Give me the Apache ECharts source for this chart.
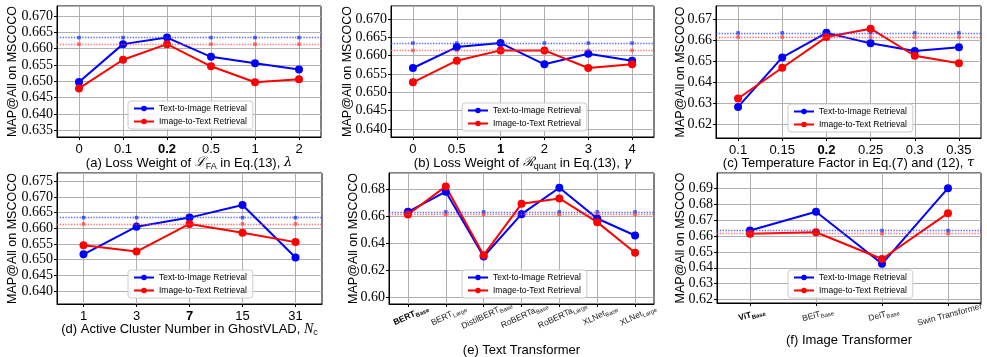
<!DOCTYPE html>
<html>
<head>
<meta charset="utf-8">
<script src="https://cdn.jsdelivr.net/npm/echarts@6/dist/echarts.min.js"></script>
<style>
  html, body { margin: 0; background: #fff; }
  #chart { width: 987px; height: 357px; }
</style>
</head>
<body>
<div id="chart"></div>
<script>
// default-configuration scores, drawn as the dotted reference lines
const baseT2I = 0.6634;
const baseI2T = 0.6614;

const lambdaLabels = ['0', '0.1', '0.2', '0.5', '1', '2'];
const lambdaT2I = [0.6498, 0.6614, 0.6634, 0.6575, 0.6555, 0.6536];
const lambdaI2T = [0.6478, 0.6566, 0.6614, 0.6546, 0.6497, 0.6506];

const gammaLabels = ['0', '0.5', '1', '2', '3', '4'];
const gammaT2I = [0.6566, 0.6623, 0.6634, 0.6576, 0.6605, 0.6586];
const gammaI2T = [0.6527, 0.6586, 0.6614, 0.6614, 0.6566, 0.6576];

const tauLabels = ['0.1', '0.15', '0.2', '0.25', '0.3', '0.35'];
const tauT2I = [0.6281, 0.6517, 0.6634, 0.6584, 0.6548, 0.6565];
const tauI2T = [0.6321, 0.6468, 0.6614, 0.6654, 0.6525, 0.6489];

const clusterLabels = ['1', '3', '7', '15', '31'];
const clusterT2I = [0.6517, 0.6605, 0.6634, 0.6674, 0.6507];
const clusterI2T = [0.6546, 0.6526, 0.6614, 0.6586, 0.6556];

const textModels = ['BERT|Base', 'BERT|Large', 'DistilBERT|Base', 'RoBERTa|Base', 'RoBERTa|Large', 'XLNet|Base', 'XLNet|Large'];
const textT2I = [0.6634, 0.6783, 0.6304, 0.6617, 0.6812, 0.6585, 0.6459];
const textI2T = [0.6614, 0.6822, 0.6314, 0.6693, 0.6733, 0.6558, 0.6331];

const imageModels = ['ViT|Base', 'BEiT|Base', 'DeiT|Base', 'Swin Transformer'];
const imageT2I = [0.6634, 0.6752, 0.6425, 0.6900];
const imageI2T = [0.6614, 0.6623, 0.6455, 0.6743];

const T2I = 'Text-to-Image Retrieval';
const I2T = 'Image-to-Text Retrieval';
const BLUE = '#0000ff';
const RED = '#ff0000';

const panels = [
  { cats: lambdaLabels, t2i: lambdaT2I, i2t: lambdaI2T, bold: 2,
    box: [57, 6, 264, 131], y: [0.6329, 0.6731], step: 0.005, dec: 3, yGap: 38,
    title: '{t|(a) Loss Weight of }{l|ℒ}{s|FA}{t| in Eq.(13), }{i|λ}', xGap: 18, legend: [128, 101] },
  { cats: gammaLabels, t2i: gammaT2I, i2t: gammaI2T, bold: 2,
    box: [391, 6, 263, 131], y: [0.6378, 0.6735], step: 0.005, dec: 3, yGap: 37,
    title: '{t|(b) Loss Weight of }{l|ℛ}{s|quant}{t| in Eq.(13), }{i|γ}', xGap: 18, legend: [462, 103] },
  { cats: tauLabels, t2i: tauT2I, i2t: tauI2T, bold: 2,
    box: [716, 6, 265, 132], y: [0.6133, 0.6762], step: 0.01, dec: 2, yGap: 29,
    title: '{t|(c) Temperature Factor in Eq.(7) and (12), }{i|τ}', xGap: 17, legend: [788, 104] },
  { cats: clusterLabels, t2i: clusterT2I, i2t: clusterI2T, bold: 2,
    box: [57, 173, 265, 131], y: [0.6359, 0.6776], step: 0.005, dec: 3, yGap: 38,
    title: '{t|(d) Active Cluster Number in GhostVLAD, }{n|N}{s|c}', xGap: 17, legend: [128, 270] },
  { cats: textModels, t2i: textT2I, i2t: textI2T, bold: 0, sub: true, rotate: 25, size: 8.5,
    box: [389, 173, 265, 131], y: [0.5953, 0.6921], step: 0.02, dec: 2, yGap: 29,
    title: '{t|(e) Text Transformer}', xGap: 38, legend: [462, 270] },
  { cats: imageModels, t2i: imageT2I, i2t: imageI2T, bold: 0, sub: true, rotate: 15, size: 8.5,
    box: [717, 173, 264, 130], y: [0.6179, 0.6995], step: 0.01, dec: 2, yGap: 30,
    title: '{t|(f) Image Transformer}', xGap: 29, legend: [788, 270] }
];

const sans = 'Liberation Sans, Arial, sans-serif';
const serif = 'Liberation Serif, Times New Roman, serif';

const titleRich = {
  t: { fontSize: 13, fontFamily: sans, color: '#000', lineHeight: 16 },
  l: { fontSize: 13, fontFamily: 'DejaVu Serif', fontStyle: 'italic', color: '#000', lineHeight: 16 },
  i: { fontSize: 13, fontFamily: 'DejaVu Serif', fontStyle: 'italic', color: '#000', lineHeight: 16 },
  n: { fontSize: 14, fontFamily: serif, fontStyle: 'italic', color: '#000', lineHeight: 16 },
  s: { fontSize: 9, fontFamily: sans, color: '#000', lineHeight: 9, verticalAlign: 'bottom' }
};

function tickRich(size) {
  return {
    m: { fontSize: size, fontFamily: sans, color: '#222', lineHeight: size + 3 },
    mb: { fontSize: size, fontFamily: sans, fontWeight: 'bold', color: '#000', lineHeight: size + 3 },
    s: { fontSize: size * 0.7, fontFamily: sans, color: '#222', lineHeight: size * 0.75, verticalAlign: 'bottom' },
    sb: { fontSize: size * 0.7, fontFamily: sans, fontWeight: 'bold', color: '#000', lineHeight: size * 0.75, verticalAlign: 'bottom' }
  };
}

const grid = [], xAxis = [], yAxis = [], series = [], legend = [];

panels.forEach((p, k) => {
  const [left, top, width, height] = p.box;
  grid.push({ left, top, width, height, show: true, borderColor: '#000', borderWidth: 1,
    outerBoundsMode: 'none' });

  const labelOpt = p.sub
    ? {
        rotate: p.rotate, margin: 5, align: 'center', verticalAlign: 'middle',
        padding: [14, 0, 0, 0],
        rich: tickRich(p.size),
        formatter: (v, idx) => {
          const [main, low] = v.split('|');
          const b = idx === p.bold ? 'b' : '';
          return low ? `{m${b}|${main}}{s${b}|${low}}` : `{m${b}|${main}}`;
        }
      }
    : { fontSize: 13, fontFamily: sans, color: '#000', margin: 6 };

  xAxis.push({
    gridIndex: k, type: 'category', boundaryGap: true,
    data: p.sub ? p.cats : p.cats.map((c, i) => i === p.bold ? { value: c, textStyle: { fontWeight: 'bold' } } : c),
    axisLine: { show: true, lineStyle: { color: '#000', width: 1 } },
    axisTick: { show: true, alignWithLabel: true, length: 3, lineStyle: { color: '#000' } },
    splitLine: { show: true, alignWithLabel: true, lineStyle: { color: '#b0b0b0', width: 1 } },
    axisLabel: labelOpt,
    name: p.title, nameLocation: 'middle', nameGap: p.xGap, nameMoveOverlap: false,
    nameTextStyle: { rich: titleRich }
  });

  yAxis.push({
    gridIndex: k, type: 'value', min: p.y[0], max: p.y[1],
    minInterval: p.step, maxInterval: p.step, splitNumber: 8,
    axisLine: { show: true, lineStyle: { color: '#000', width: 1 } },
    axisTick: { show: true, length: 3, lineStyle: { color: '#000' } },
    splitLine: { show: true, lineStyle: { color: '#b0b0b0', width: 1 } },
    axisLabel: { fontSize: 14, fontFamily: serif, color: '#000', margin: 4,
      showMinLabel: false, showMaxLabel: false, formatter: v => v.toFixed(p.dec) },
    name: 'MAP@All on MSCOCO', nameLocation: 'middle', nameRotate: 90, nameGap: p.yGap,
    nameMoveOverlap: false,
    nameTextStyle: { fontSize: 12.5, fontFamily: sans, color: '#000' }
  });

  // dotted reference lines with small square marks at every category
  [[baseT2I, '#2a3cff', 'base-t2i'], [baseI2T, '#ff4a4a', 'base-i2t']].forEach(([v, c, nm]) => {
    series.push({
      name: nm, type: 'line', xAxisIndex: k, yAxisIndex: k, silent: true, z: 1,
      symbol: 'rect', symbolSize: 3.5, showAllSymbol: true,
      itemStyle: { color: c, opacity: 0.8 },
      lineStyle: { opacity: 0 },
      data: p.cats.map(() => v),
      markLine: {
        silent: true, symbol: 'none', label: { show: false }, animation: false,
        precision: 6,
        lineStyle: { color: c, type: 'dotted', width: 1.4, opacity: 0.75 },
        data: [{ yAxis: v }]
      }
    });
  });

  [[T2I, p.t2i, BLUE], [I2T, p.i2t, RED]].forEach(([nm, vals, c]) => {
    series.push({
      name: nm, type: 'line', xAxisIndex: k, yAxisIndex: k, z: 3,
      symbol: 'circle', symbolSize: 8, showAllSymbol: true,
      lineStyle: { color: c, width: 2 }, itemStyle: { color: c },
      data: vals
    });
  });

  legend.push({
    data: [T2I, I2T], orient: 'vertical', left: p.legend[0], top: p.legend[1],
    itemWidth: 20, itemHeight: 7, itemGap: 4, padding: [3, 6, 3, 5],
    borderColor: '#cccccc', borderWidth: 1, borderRadius: 3,
    backgroundColor: 'rgba(255,255,255,0.85)',
    textStyle: { fontSize: 8.5, fontFamily: sans, color: '#000' },
    selectedMode: false
  });
});

const chart = echarts.init(document.getElementById('chart'), null, { renderer: 'canvas' });
chart.setOption({
  animation: false,
  backgroundColor: '#fff',
  grid, xAxis, yAxis, series, legend
});
</script>
</body>
</html>
